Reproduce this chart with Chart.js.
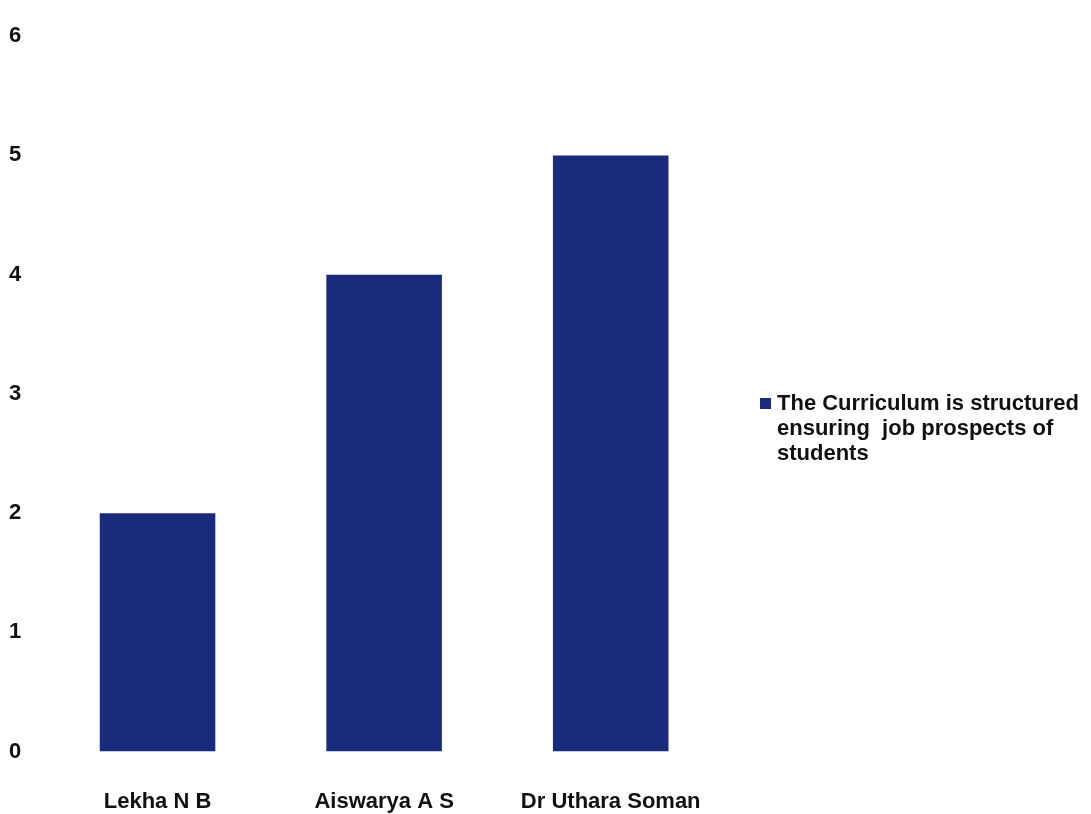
<!DOCTYPE html>
<html>
<head>
<meta charset="utf-8">
<script src="https://cdn.jsdelivr.net/npm/chart.js@4"></script>
<style>
  body { margin: 0; background: #fff; }
  #wrap { position: relative; width: 1091px; height: 814px; }
  #legend {
    position: absolute; left: 760px; top: 390px;
    font: bold 22px "Liberation Sans", Arial, sans-serif; color: #111;
    line-height: 25px;
  }
  #legend .box {
    position: absolute; left: 0; top: 8px; width: 11px; height: 11px; background: #1a2b7c;
  }
  #legend .txt { margin-left: 17px; }
</style>
</head>
<body>
<div id="wrap">
  <canvas id="myChart" width="1091" height="814"></canvas>
  <div id="legend"><span class="box"></span><div class="txt">The Curriculum is structured<br>ensuring&nbsp; job prospects of<br>students</div></div>
</div>
<script>
  const labels = ['Lekha N B', 'Aiswarya A S', 'Dr Uthara Soman'];
  const seriesName = 'The Curriculum is structured ensuring  job prospects of students';
  const values = [2, 4, 5];

  const data = {
    labels: labels,
    datasets: [{
      label: seriesName,
      backgroundColor: '#1a2b7c',
      data: values,
      categoryPercentage: 1,
      barPercentage: 0.51,
    }]
  };

  const tickFont = { family: '"Liberation Sans", Arial, sans-serif', size: 22, weight: 'bold' };

  // chart.js reserves tick padding on both sides of the labels, so the
  // negative padding pulls the axes back to where the reference has them
  const config = {
    type: 'bar',
    data: data,
    options: {
      responsive: false,
      animation: false,
      layout: { padding: { left: -14, right: 367, top: 26, bottom: -38 } },
      plugins: { legend: { display: false }, tooltip: { enabled: false } },
      scales: {
        x: {
          grid: { display: false, drawTicks: false },
          border: { display: false },
          ticks: { color: '#111', font: tickFont, padding: 37 }
        },
        y: {
          min: 0,
          max: 6,
          grid: { display: false, drawTicks: false },
          border: { display: false },
          ticks: { stepSize: 1, color: '#111', font: tickFont, padding: 23 }
        }
      }
    }
  };

  const myChart = new Chart(document.getElementById('myChart'), config);
</script>
</body>
</html>
